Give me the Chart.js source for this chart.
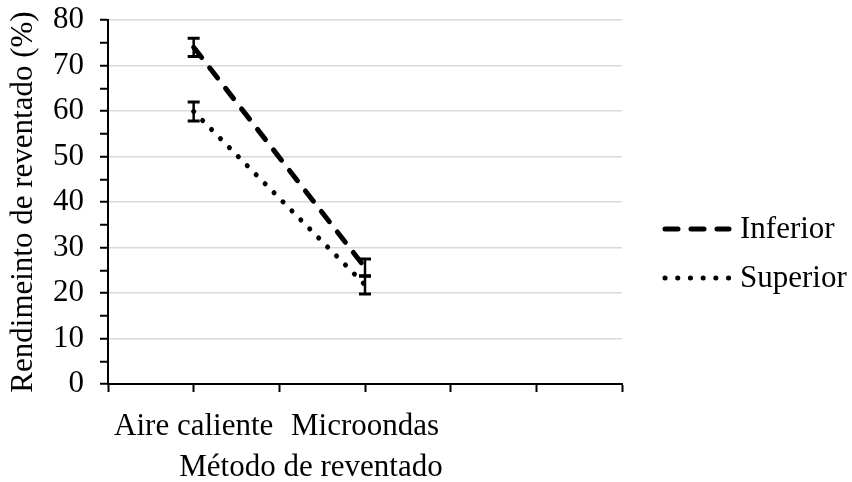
<!DOCTYPE html>
<html>
<head>
<meta charset="utf-8">
<script src="https://cdn.jsdelivr.net/npm/chart.js@4"></script>
<style>
  html, body { margin: 0; padding: 0; background: #fff; }
</style>
</head>
<body>
<canvas id="lineChart" width="852" height="482"></canvas>
<script>
// values
const categories = ['Aire caliente', 'Microondas'];
const categoryX = [1, 3];
const inferior = [74, 25.6];
const inferiorErr = [2, 1.9];
const superior = [59.9, 21.8];
const superiorErr = [2.1, 2];
const seriesNames = ['Inferior', 'Superior'];
const xTitle = 'Método de reventado';
const yTitle = 'Rendimeinto de reventado (%)';

const FONT = 'Liberation Serif';
const FONT_SIZE = 31;

Chart.defaults.font.family = FONT;
Chart.defaults.font.size = FONT_SIZE;
Chart.defaults.color = '#000';

const errors = [inferiorErr, superiorErr];

// vertical error bars with caps
const errorBars = {
  id: 'errorBars',
  afterDatasetsDraw(chart) {
    const { ctx, scales } = chart;
    ctx.save();
    ctx.strokeStyle = '#000';
    chart.data.datasets.forEach((ds, d) => {
      ds.data.forEach((pt, i) => {
        const x = scales.x.getPixelForValue(pt.x);
        const yTop = scales.y.getPixelForValue(pt.y + errors[d][i]);
        const yBot = scales.y.getPixelForValue(pt.y - errors[d][i]);
        ctx.lineWidth = 2.5;
        ctx.beginPath();
        ctx.moveTo(x, yTop);
        ctx.lineTo(x, yBot);
        ctx.stroke();
        ctx.lineWidth = 3;
        ctx.beginPath();
        ctx.moveTo(x - 6, yTop);
        ctx.lineTo(x + 6, yTop);
        ctx.moveTo(x - 6, yBot);
        ctx.lineTo(x + 6, yBot);
        ctx.stroke();
      });
    });
    ctx.restore();
  }
};

// legend on the right and the x axis title, placed like the original
const sideLegend = {
  id: 'sideLegend',
  afterDraw(chart) {
    const { ctx, chartArea } = chart;
    ctx.save();
    ctx.font = FONT_SIZE + 'px "' + FONT + '"';
    ctx.fillStyle = '#000';
    ctx.textBaseline = 'middle';
    ctx.textAlign = 'left';
    const rows = [229, 278];
    chart.data.datasets.forEach((ds, d) => {
      const y = rows[d];
      ctx.strokeStyle = '#000';
      ctx.lineWidth = ds.borderWidth;
      ctx.lineCap = 'round';
      ctx.setLineDash(ds.borderDash);
      ctx.beginPath();
      ctx.moveTo(665, y);
      ctx.lineTo(729, y);
      ctx.stroke();
      ctx.setLineDash([]);
      ctx.fillText(ds.label, 740, y + 1);
    });
    ctx.textAlign = 'center';
    ctx.textBaseline = 'alphabetic';
    ctx.fillText(xTitle, chartArea.right / 2, 476);
    ctx.restore();
  }
};

const data = {
  datasets: [
    {
      label: seriesNames[0],
      data: categoryX.map((x, i) => ({ x: x, y: inferior[i] })),
      borderColor: '#000',
      borderWidth: 5,
      borderDash: [13, 13],
      borderCapStyle: 'round',
      pointRadius: 0,
      fill: false
    },
    {
      label: seriesNames[1],
      data: categoryX.map((x, i) => ({ x: x, y: superior[i] })),
      borderColor: '#000',
      borderWidth: 5,
      borderDash: [0.1, 12.6],
      borderCapStyle: 'round',
      pointRadius: 0,
      fill: false
    }
  ]
};

const config = {
  type: 'line',
  data: data,
  options: {
    responsive: false,
    animation: false,
    layout: { padding: { top: 20, right: 230, left: 0, bottom: 0 } },
    plugins: {
      legend: { display: false },
      tooltip: { enabled: false }
    },
    scales: {
      x: {
        type: 'linear',
        min: 0,
        max: 6,
        afterFit(scale) { scale.height = 98; },
        ticks: {
          stepSize: 1,
          autoSkip: false,
          maxRotation: 0,
          padding: 16,
          callback(v) {
            const i = categoryX.indexOf(v);
            return i >= 0 ? categories[i] : '';
          }
        },
        grid: {
          drawOnChartArea: false,
          drawTicks: true,
          tickLength: 8,
          tickColor: '#000',
          tickWidth: 2
        },
        border: { color: '#000', width: 2 }
      },
      y: {
        min: 0,
        max: 80,
        afterFit(scale) { scale.width = 108; },
        ticks: {
          stepSize: 5,
          autoSkip: false,
          padding: 16,
          // small lineHeight keeps the top label from pushing the plot down
          font: { lineHeight: 0.1 },
          callback(v) { return v % 10 === 0 ? v : ''; }
        },
        grid: {
          color(ctx) {
            const v = ctx.tick ? ctx.tick.value : 0;
            return v % 10 === 0 && v !== 0 ? '#d9d9d9' : 'rgba(0,0,0,0)';
          },
          lineWidth: 1.5,
          tickLength: 8,
          tickColor: '#000',
          tickWidth: 2
        },
        border: { color: '#000', width: 2 },
        title: {
          display: true,
          text: yTitle,
          padding: { top: 5, bottom: 0 }
        }
      }
    }
  },
  plugins: [errorBars, sideLegend]
};

const myChart = new Chart(document.getElementById('lineChart'), config);
</script>
</body>
</html>
